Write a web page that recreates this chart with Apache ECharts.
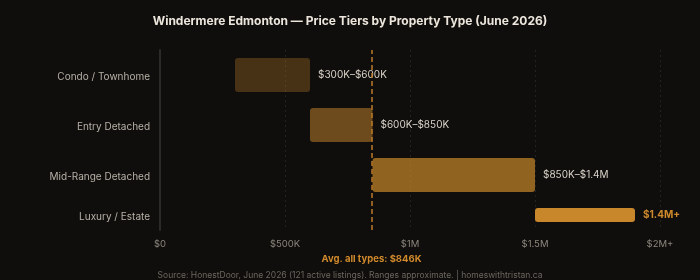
<!DOCTYPE html>
<html>
<head>
<meta charset="utf-8">
<style>
  html, body { margin: 0; padding: 0; background: #100e0c; }
  #chart { width: 700px; height: 280px; }
</style>
<script src="https://cdn.jsdelivr.net/npm/echarts@6/dist/echarts.min.js"></script>
</head>
<body>
<div id="chart"></div>
<script>
// ---- data ----
const categories = ['Condo / Townhome', 'Entry Detached', 'Mid-Range Detached', 'Luxury / Estate'];
const rangeLow = [300000, 600000, 850000, 1500000];
const rangeHigh = [600000, 850000, 1500000, 1900000];
const rangeLabels = ['$300K–$600K', '$600K–$850K', '$850K–$1.4M', '$1.4M+'];
const avgPrice = 846000;
const avgLabel = 'Avg. all types: $846K';
const tickLabels = ['$0', '$500K', '$1M', '$1.5M', '$2M+'];
const titleText = 'Windermere Edmonton — Price Tiers by Property Type (June 2026)';
const sourceText = 'Source: HonestDoor, June 2026 (121 active listings). Ranges approximate. | homeswithtristan.ca';

// ---- styles ----
const ORANGE_RGB = [201, 135, 43];
const barOpacity = [0.3, 0.5, 0.7, 1];
const barThickness = [34, 34, 34, 14];
const FONT = 'Inter, "Noto Sans", sans-serif';
const rgba = a => 'rgba(' + ORANGE_RGB.join(',') + ',' + a + ')';

const chart = echarts.init(document.getElementById('chart'), null, { renderer: 'canvas' });

// group tiers by bar thickness (thinner groups first so they sit at top of band)
const widths = Array.from(new Set(barThickness)).sort((a, b) => a - b);
const series = [];
widths.forEach(w => {
  const inGroup = i => barThickness[i] === w;
  series.push({
    type: 'bar', xAxisIndex: 0, yAxisIndex: 0, stack: 's' + w, barWidth: w, barGap: '-100%',
    silent: true,
    itemStyle: { color: 'transparent' },
    data: categories.map((c, i) => inGroup(i) ? rangeLow[i] : '-')
  });
  series.push({
    type: 'bar', xAxisIndex: 0, yAxisIndex: 0, stack: 's' + w, barWidth: w, barGap: '-100%',
    data: categories.map((c, i) => inGroup(i) ? {
      value: rangeHigh[i] - rangeLow[i],
      itemStyle: { color: rgba(barOpacity[i]), borderRadius: 3 },
      label: i === categories.length - 1
        ? { color: '#d08a2c', fontWeight: 'bold' }
        : { color: '#d8d2c8' }
    } : '-'),
    label: {
      show: true, position: 'right', distance: 8, fontSize: 10, fontFamily: FONT,
      formatter: p => rangeLabels[p.dataIndex]
    }
  });
});
series.push({
  type: 'line', xAxisIndex: 1, yAxisIndex: 1, data: [], symbol: 'none',
  markLine: {
    silent: true, symbol: 'none',
    lineStyle: { color: '#b97a27', type: [5, 3], width: 1.5 },
    label: {
      show: true, position: 'start', distance: 24, formatter: avgLabel,
      color: '#d08a2c', fontWeight: 'bold', fontSize: 9.5, fontFamily: FONT
    },
    data: [{ xAxis: avgPrice }]
  }
});

chart.setOption({
  backgroundColor: '#100e0c',
  animation: false,
  title: [
    { text: titleText, left: 'center', top: 10,
      textStyle: { color: '#ece6dc', fontSize: 12, fontWeight: 'bold', fontFamily: FONT } },
    { text: sourceText, left: 'center', top: 266,
      textStyle: { color: '#6b665f', fontSize: 8.5, fontWeight: 'normal', fontFamily: FONT } }
  ],
  grid: [
    { left: 160, right: 40, top: 50, height: 200 },
    { left: 160, right: 40, top: 50, height: 180 }
  ],
  xAxis: [
    { gridIndex: 0, type: 'value', min: 0, max: 2000000, show: false },
    { gridIndex: 1, type: 'value', min: 0, max: 2000000, interval: 500000,
      axisLine: { show: false }, axisTick: { show: false },
      splitLine: { show: true, lineStyle: { color: '#24211e', type: [2, 3], width: 1 } },
      axisLabel: { color: '#8b867e', fontSize: 9.5, fontFamily: FONT, margin: 9,
        formatter: (v) => tickLabels[Math.round(v / 500000)] } }
  ],
  yAxis: [
    { gridIndex: 0, type: 'category', inverse: true, data: categories,
      axisLine: { show: false }, axisTick: { show: false }, splitLine: { show: false },
      axisLabel: { color: '#b6b0a7', fontSize: 10, fontFamily: FONT, margin: 10,
        formatter: (v, i) => i === categories.length - 1 ? '{thin|' + v + '}' : '{n|' + v + '}',
        rich: {
          n: { color: '#b6b0a7', fontSize: 10, fontFamily: FONT, padding: [4, 0, 0, 0] },
          thin: { color: '#b6b0a7', fontSize: 10, fontFamily: FONT, padding: [0, 0, 17, 0] }
        } } },
    { gridIndex: 1, type: 'value', min: 0, max: 1,
      axisLine: { show: true, lineStyle: { color: '#2c2926', width: 2 } },
      axisTick: { show: false }, axisLabel: { show: false }, splitLine: { show: false } }
  ],
  series: series
});
</script>
</body>
</html>
